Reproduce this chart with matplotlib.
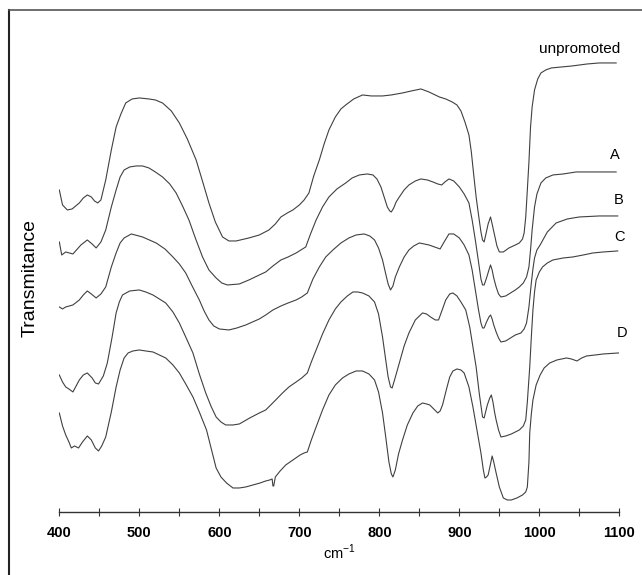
import numpy as np
import matplotlib.pyplot as plt
from matplotlib.lines import Line2D
from matplotlib.ticker import MultipleLocator

plt.rcParams['font.family'] = ['Liberation Sans', 'DejaVu Sans']

# IR spectra: (wavenumber cm-1, transmittance in arb. offset units)
unpromoted = np.array([
    [400, 3.22], [404, 3.07], [410, 3.02], [416, 3.03], [425, 3.09], [430, 3.14], [435, 3.17], [440, 3.15],
    [444, 3.11], [448, 3.09], [452, 3.12], [458, 3.32], [465, 3.62], [471, 3.85], [477, 3.98], [483, 4.09],
    [491, 4.13], [500, 4.14], [512, 4.13], [520, 4.12], [529, 4.09], [540, 4.01], [550, 3.89], [560, 3.73],
    [571, 3.52], [580, 3.28], [587, 3.09], [595, 2.90], [604, 2.75], [612, 2.71], [621, 2.71], [637, 2.74],
    [650, 2.77], [662, 2.82], [670, 2.88], [677, 2.95], [685, 2.99], [692, 3.02], [700, 3.07], [706, 3.12],
    [712, 3.19], [718, 3.36], [725, 3.52], [731, 3.68], [737, 3.82], [745, 3.95], [752, 4.03], [758, 4.07],
    [768, 4.13], [779, 4.17], [790, 4.16], [804, 4.16], [815, 4.17], [829, 4.19], [840, 4.21], [852, 4.23],
    [862, 4.20], [875, 4.15], [883, 4.13], [891, 4.10], [897, 4.07], [902, 4.01], [907, 3.90], [912, 3.77],
    [915, 3.60], [918, 3.37], [921, 3.15], [924, 2.97], [927, 2.80], [929, 2.72], [931, 2.70], [933, 2.77],
    [936, 2.88], [939, 2.95], [941, 2.88], [944, 2.77], [947, 2.66], [950, 2.60], [955, 2.60], [962, 2.64],
    [970, 2.67], [975, 2.69], [979, 2.73], [981, 2.79], [983, 2.95], [985, 3.22], [987, 3.50], [989, 3.85],
    [991, 4.05], [994, 4.22], [998, 4.33], [1002, 4.39], [1008, 4.42], [1015, 4.44], [1028, 4.45], [1041, 4.46],
    [1060, 4.48], [1075, 4.49], [1096, 4.49]])

sample_a = np.array([
    [400, 2.70], [403, 2.57], [408, 2.60], [417, 2.58], [427, 2.67], [435, 2.72], [441, 2.68], [446, 2.64],
    [452, 2.70], [458, 2.82], [465, 3.05], [471, 3.22], [476, 3.35], [481, 3.42], [488, 3.45], [496, 3.46],
    [504, 3.46], [512, 3.44], [520, 3.40], [529, 3.35], [538, 3.28], [546, 3.19], [554, 3.06], [562, 2.92],
    [570, 2.74], [579, 2.55], [587, 2.42], [596, 2.34], [603, 2.29], [610, 2.27], [625, 2.28], [637, 2.32],
    [650, 2.37], [658, 2.40], [667, 2.46], [677, 2.52], [686, 2.55], [696, 2.59], [708, 2.65], [714, 2.78],
    [721, 2.92], [729, 3.05], [737, 3.15], [747, 3.23], [758, 3.29], [766, 3.34], [775, 3.37], [785, 3.38],
    [792, 3.37], [797, 3.33], [802, 3.25], [806, 3.15], [810, 3.05], [813, 3.01], [815, 3.00], [818, 3.04],
    [821, 3.10], [825, 3.15], [831, 3.22], [837, 3.27], [845, 3.31], [852, 3.33], [860, 3.32], [867, 3.30],
    [873, 3.28], [878, 3.27], [882, 3.30], [887, 3.33], [893, 3.31], [900, 3.25], [906, 3.18], [912, 3.09],
    [916, 2.92], [920, 2.72], [924, 2.50], [927, 2.33], [929, 2.27], [931, 2.27], [934, 2.34], [937, 2.42],
    [939, 2.47], [941, 2.42], [943, 2.34], [946, 2.25], [949, 2.18], [952, 2.15], [958, 2.16], [964, 2.19],
    [970, 2.22], [975, 2.25], [980, 2.29], [984, 2.35], [987, 2.45], [989, 2.62], [991, 2.82], [994, 3.05],
    [997, 3.18], [1002, 3.29], [1008, 3.34], [1017, 3.37], [1030, 3.38], [1046, 3.40], [1070, 3.40], [1096, 3.40]])

sample_b = np.array([
    [400, 2.05], [404, 2.03], [408, 2.05], [417, 2.07], [425, 2.12], [430, 2.17], [435, 2.21], [440, 2.18],
    [446, 2.14], [452, 2.18], [458, 2.25], [465, 2.45], [471, 2.59], [476, 2.69], [481, 2.74], [490, 2.78],
    [504, 2.75], [521, 2.69], [532, 2.63], [542, 2.55], [550, 2.48], [558, 2.39], [566, 2.26], [575, 2.12],
    [581, 2.01], [587, 1.92], [593, 1.86], [600, 1.83], [612, 1.82], [622, 1.84], [633, 1.87], [650, 1.93],
    [658, 1.97], [667, 2.02], [677, 2.06], [686, 2.09], [696, 2.12], [703, 2.15], [710, 2.19], [717, 2.33],
    [725, 2.45], [733, 2.55], [742, 2.62], [752, 2.69], [762, 2.74], [771, 2.77], [781, 2.78], [788, 2.76],
    [794, 2.72], [799, 2.64], [804, 2.52], [808, 2.38], [811, 2.28], [814, 2.22], [817, 2.26], [820, 2.35],
    [825, 2.45], [831, 2.55], [837, 2.62], [843, 2.66], [850, 2.69], [856, 2.68], [862, 2.67], [869, 2.65],
    [876, 2.63], [881, 2.70], [887, 2.78], [893, 2.78], [900, 2.74], [906, 2.67], [912, 2.57], [916, 2.42],
    [920, 2.22], [924, 2.02], [927, 1.89], [929, 1.84], [931, 1.84], [934, 1.90], [937, 1.95], [939, 1.97],
    [941, 1.93], [943, 1.87], [946, 1.80], [949, 1.74], [952, 1.70], [958, 1.71], [964, 1.74], [970, 1.77],
    [977, 1.79], [981, 1.83], [984, 1.89], [987, 2.05], [990, 2.29], [992, 2.43], [994, 2.54], [997, 2.62],
    [1001, 2.67], [1010, 2.80], [1021, 2.89], [1035, 2.93], [1050, 2.95], [1075, 2.96], [1098, 2.96]])

sample_c = np.array([
    [400, 1.37], [404, 1.30], [408, 1.25], [412, 1.23], [417, 1.20], [421, 1.26], [425, 1.32], [430, 1.37],
    [435, 1.39], [441, 1.34], [445, 1.29], [449, 1.28], [455, 1.36], [460, 1.49], [466, 1.75], [471, 1.99],
    [475, 2.10], [479, 2.17], [488, 2.21], [500, 2.22], [508, 2.20], [517, 2.17], [525, 2.13], [533, 2.09],
    [542, 2.00], [550, 1.89], [558, 1.75], [567, 1.59], [575, 1.38], [583, 1.19], [590, 1.05], [596, 0.95],
    [602, 0.90], [608, 0.87], [617, 0.87], [625, 0.88], [638, 0.94], [650, 0.99], [658, 1.02], [668, 1.10],
    [679, 1.19], [687, 1.25], [696, 1.30], [703, 1.34], [710, 1.39], [715, 1.50], [721, 1.62], [729, 1.78],
    [737, 1.92], [745, 2.03], [752, 2.10], [760, 2.16], [767, 2.20], [773, 2.20], [779, 2.19], [787, 2.16],
    [794, 2.10], [799, 1.98], [804, 1.75], [808, 1.52], [811, 1.35], [814, 1.25], [816, 1.24], [819, 1.32],
    [825, 1.49], [831, 1.66], [837, 1.79], [845, 1.92], [854, 1.99], [859, 1.98], [864, 1.95], [870, 1.92],
    [874, 1.92], [879, 2.03], [883, 2.12], [888, 2.18], [892, 2.19], [897, 2.16], [902, 2.10], [908, 2.02],
    [913, 1.85], [917, 1.65], [921, 1.45], [925, 1.18], [929, 0.95], [931, 0.94], [935, 1.07], [938, 1.14],
    [940, 1.17], [942, 1.10], [944, 1.00], [946, 0.92], [949, 0.82], [952, 0.75], [958, 0.76], [965, 0.78],
    [970, 0.80], [975, 0.82], [980, 0.86], [983, 0.92], [985, 1.10], [988, 1.45], [990, 1.75], [992, 2.02],
    [994, 2.20], [996, 2.32], [1000, 2.40], [1004, 2.45], [1010, 2.49], [1017, 2.52], [1030, 2.54], [1042, 2.55],
    [1055, 2.57], [1067, 2.59], [1080, 2.60], [1098, 2.61]])

sample_d = np.array([
    [400, 0.99], [404, 0.86], [408, 0.77], [412, 0.70], [415, 0.64], [419, 0.66], [424, 0.64], [429, 0.70],
    [435, 0.76], [440, 0.72], [445, 0.64], [449, 0.61], [453, 0.66], [458, 0.75], [465, 1.00], [471, 1.25],
    [476, 1.42], [481, 1.54], [486, 1.59], [492, 1.61], [500, 1.62], [508, 1.61], [517, 1.60], [525, 1.57],
    [533, 1.54], [542, 1.47], [550, 1.39], [558, 1.28], [567, 1.15], [575, 1.00], [584, 0.82], [590, 0.63],
    [596, 0.44], [602, 0.35], [609, 0.29], [617, 0.24], [625, 0.24], [633, 0.25], [642, 0.27], [651, 0.29],
    [658, 0.31], [663, 0.32], [666, 0.33], [667, 0.26], [668, 0.26], [670, 0.35], [676, 0.41], [683, 0.47],
    [692, 0.52], [701, 0.57], [706, 0.59], [710, 0.60], [715, 0.72], [721, 0.85], [729, 1.02], [737, 1.17],
    [745, 1.27], [754, 1.34], [762, 1.38], [771, 1.41], [779, 1.41], [787, 1.38], [794, 1.32], [799, 1.20],
    [804, 0.99], [808, 0.75], [812, 0.50], [815, 0.38], [817, 0.35], [820, 0.42], [824, 0.58], [829, 0.72],
    [835, 0.87], [842, 0.99], [848, 1.06], [854, 1.09], [859, 1.08], [863, 1.07], [868, 1.03], [873, 0.99],
    [876, 1.01], [879, 1.07], [884, 1.23], [888, 1.35], [892, 1.41], [897, 1.43], [902, 1.42], [906, 1.39],
    [912, 1.25], [917, 1.05], [922, 0.82], [927, 0.59], [930, 0.42], [932, 0.34], [934, 0.35], [936, 0.37],
    [939, 0.48], [941, 0.56], [943, 0.50], [946, 0.39], [950, 0.25], [955, 0.14], [960, 0.12], [965, 0.12],
    [972, 0.14], [979, 0.17], [983, 0.20], [985, 0.25], [987, 0.50], [988, 0.79], [990, 0.98], [992, 1.12],
    [996, 1.27], [1001, 1.37], [1006, 1.44], [1013, 1.49], [1022, 1.52], [1034, 1.54], [1040, 1.53], [1047, 1.51],
    [1053, 1.54], [1059, 1.56], [1070, 1.57], [1080, 1.58], [1099, 1.59]])

labels = ['unpromoted', 'A', 'B', 'C', 'D']
label_x = [1050, 1095, 1099, 1100, 1104]
label_y = [4.63, 3.57, 3.12, 2.75, 1.79]

fig = plt.figure(figsize=(6.42, 5.75), dpi=100)
ax = fig.add_axes([0.0924, 0.1096, 0.8723, 0.8557])

for spec in [unpromoted, sample_a, sample_b, sample_c, sample_d]:
    ax.plot(spec[:, 0], spec[:, 1], color='#404040', lw=0.8)

for lab, x, y in zip(labels, label_x, label_y):
    ax.text(x, y, lab, ha='center', va='center', fontsize=11 if lab == 'unpromoted' else 10.5)

ax.set_xlim(400, 1100)
ax.set_ylim(0, 4.92)
for s in ['top', 'right', 'left']:
    ax.spines[s].set_visible(False)
ax.spines['bottom'].set_color('#333333')
ax.spines['bottom'].set_linewidth(1.0)
ax.set_yticks([])
ax.xaxis.set_major_locator(MultipleLocator(100))
ax.xaxis.set_minor_locator(MultipleLocator(50))
ax.tick_params(axis='x', which='both', direction='inout', length=6, width=0.8, color='#333333')
ax.tick_params(axis='x', which='major', pad=7, labelsize=10.5)
for lbl in ax.get_xticklabels():
    lbl.set_fontweight('bold')
ax.set_xlabel('cm$^{\\mathregular{-1}}$', fontsize=10.5, labelpad=2)

fig.text(30 / 642, 1 - 278 / 575, 'Transmitance', rotation=90, ha='center', va='center', fontsize=14)

# scan frame (top and left edge only)
fig.add_artist(Line2D([9 / 642, 9 / 642], [0, 1 - 10 / 575], color='#222222', lw=1.5))
fig.add_artist(Line2D([9 / 642, 1], [1 - 10 / 575, 1 - 10 / 575], color='#555555', lw=1.2))

fig.savefig('out.png', dpi=100)
